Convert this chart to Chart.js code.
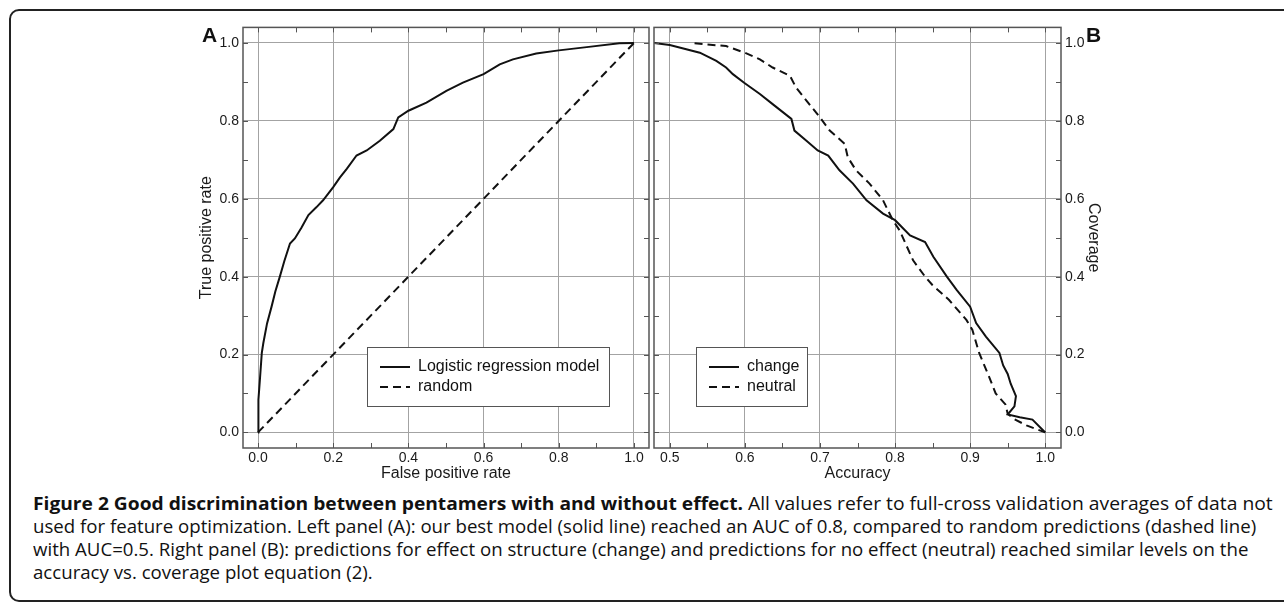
<!DOCTYPE html>
<html><head><meta charset="utf-8">
<script src="https://cdn.jsdelivr.net/npm/chart.js@4.4.1/dist/chart.umd.min.js"></script>
<style>
html,body{margin:0;padding:0;background:#fff;width:1284px;height:603px;overflow:hidden;position:relative;}
#frame{position:absolute;left:9px;top:9px;width:1310px;height:593px;border:2px solid #222;border-radius:10px;box-sizing:border-box;}
canvas{position:absolute;}
#cA{left:180px;top:15px;}
#cB{left:651px;top:15px;}
.plab{position:absolute;font:bold 21px 'Liberation Sans',Arial,sans-serif;line-height:21px;color:#111;}
#caption{position:absolute;left:33px;top:492px;font-family:'Open Sans','Noto Sans',sans-serif;font-size:18px;line-height:23px;color:#111;white-space:nowrap;}
#caption .cl{height:23px;white-space:nowrap;}
#caption .b,#caption .r{display:inline-block;white-space:pre;transform-origin:0 0;}
#caption .b{font-weight:700;}
</style></head>
<body>
<div id="frame"></div>
<canvas id="cA" width="472" height="475"></canvas>
<canvas id="cB" width="469" height="475"></canvas>
<div class="plab" style="left:202px;top:24px;">A</div>
<div class="plab" style="left:1086px;top:24px;">B</div>
<div id="caption">
<div class="cl"><span class="b" id="capBold">Figure 2 Good discrimination between pentamers with and without effect.</span><span class="r" id="capFirst"> All values refer to full-cross validation averages of data not</span></div>
<div class="cl"><span class="r">used for feature optimization. Left panel (A): our best model (solid line) reached an AUC of 0.8, compared to random predictions (dashed line)</span></div>
<div class="cl"><span class="r">with AUC=0.5. Right panel (B): predictions for effect on structure (change) and predictions for no effect (neutral) reached similar levels on the</span></div>
<div class="cl"><span class="r">accuracy vs. coverage plot equation (2).</span></div>
</div>
<script>
// ---- Panel A: ROC curve ----
const rocFPR = [0, 0.001, 0.005, 0.010, 0.014, 0.024, 0.036, 0.046, 0.058, 0.070, 0.085, 0.098, 0.115, 0.134, 0.155, 0.173, 0.200, 0.218, 0.236, 0.262, 0.289, 0.324, 0.360, 0.373, 0.400, 0.448, 0.501, 0.545, 0.600, 0.643, 0.678, 0.740, 0.800, 0.880, 0.961, 1.000];
const rocTPR = [0, 0.084, 0.136, 0.204, 0.229, 0.280, 0.323, 0.362, 0.400, 0.440, 0.485, 0.498, 0.525, 0.558, 0.578, 0.596, 0.630, 0.655, 0.677, 0.711, 0.724, 0.749, 0.779, 0.809, 0.826, 0.847, 0.877, 0.898, 0.920, 0.945, 0.958, 0.973, 0.981, 0.990, 0.999, 1.000];
const randomFPR = [0, 1];
const randomTPR = [0, 1];

// ---- Panel B: accuracy vs coverage ----
const changeAcc = [0.479, 0.500, 0.540, 0.562, 0.575, 0.584, 0.599, 0.620, 0.637, 0.662, 0.666, 0.682, 0.697, 0.711, 0.726, 0.744, 0.762, 0.784, 0.800, 0.820, 0.840, 0.851, 0.869, 0.882, 0.900, 0.908, 0.921, 0.939, 0.944, 0.950, 0.954, 0.961, 0.959, 0.950, 0.966, 0.983, 1.000];
const changeCov = [1.000, 0.995, 0.975, 0.954, 0.937, 0.920, 0.898, 0.869, 0.843, 0.805, 0.775, 0.749, 0.724, 0.711, 0.673, 0.639, 0.596, 0.562, 0.545, 0.506, 0.489, 0.451, 0.400, 0.366, 0.323, 0.281, 0.246, 0.204, 0.172, 0.150, 0.125, 0.093, 0.067, 0.046, 0.039, 0.033, 0.000];
const neutralAcc = [0.533, 0.575, 0.600, 0.620, 0.637, 0.660, 0.668, 0.682, 0.700, 0.713, 0.733, 0.737, 0.748, 0.766, 0.784, 0.797, 0.806, 0.824, 0.840, 0.850, 0.872, 0.895, 0.903, 0.912, 0.925, 0.934, 0.947, 0.950, 0.958, 0.975, 1.000];
const neutralCov = [0.999, 0.992, 0.975, 0.958, 0.937, 0.916, 0.886, 0.852, 0.809, 0.775, 0.741, 0.707, 0.673, 0.639, 0.596, 0.545, 0.519, 0.442, 0.400, 0.378, 0.340, 0.289, 0.263, 0.204, 0.144, 0.100, 0.072, 0.048, 0.035, 0.018, 0.000];

// ---- tick labels ----
const rocTicks = [0.0, 0.2, 0.4, 0.6, 0.8, 1.0];
const rocMinorTicks = [0.0, 0.1, 0.2, 0.3, 0.4, 0.5, 0.6, 0.7, 0.8, 0.9, 1.0];
const accTicks = [0.5, 0.6, 0.7, 0.8, 0.9, 1.0];
const accMinorTicks = [0.5, 0.55, 0.6, 0.65, 0.7, 0.75, 0.8, 0.85, 0.9, 0.95, 1.0];
const covTicks = [0.0, 0.2, 0.4, 0.6, 0.8, 1.0];
const covMinorTicks = [0.0, 0.1, 0.2, 0.3, 0.4, 0.5, 0.6, 0.7, 0.8, 0.9, 1.0];

Chart.defaults.font.family = "'Liberation Sans', Arial, Helvetica, sans-serif";
Chart.defaults.color = '#1a1a1a';
const GRID = '#a3a3a3', FRAME = '#555555', INK = '#111';

function pts(xs, ys) { return xs.map((x, i) => ({ x: x, y: ys[i] })); }

const frameTicks = {
  id: 'frameTicks',
  afterDatasetsDraw(chart, args, o) {
    const { ctx, chartArea: a, scales } = chart;
    ctx.save();
    ctx.strokeStyle = FRAME; ctx.lineWidth = 1;
    ctx.beginPath();
    o.xMinor.forEach(v => {
      const p = Math.round(scales.x.getPixelForValue(v)) + 0.5;
      ctx.moveTo(p, a.top); ctx.lineTo(p, a.top + o.len);
      ctx.moveTo(p, a.bottom); ctx.lineTo(p, a.bottom - o.len);
    });
    o.yMinor.forEach(v => {
      const p = Math.round(scales.y.getPixelForValue(v)) + 0.5;
      ctx.moveTo(a.left, p); ctx.lineTo(a.left + o.len, p);
      ctx.moveTo(a.right, p); ctx.lineTo(a.right - o.len, p);
    });
    ctx.stroke();
    ctx.lineWidth = 1.5;
    ctx.strokeRect(a.left, a.top, a.right - a.left, a.bottom - a.top);
    // legend box
    const L = o.legend;
    const bx = Math.round(a.left + L.left), by = Math.round(a.top + L.top);
    ctx.fillStyle = '#fff';
    ctx.fillRect(bx, by, L.width, L.height);
    ctx.lineWidth = 1; ctx.strokeStyle = FRAME;
    ctx.strokeRect(bx + 0.5, by + 0.5, L.width, L.height);
    ctx.font = "16px 'Liberation Sans', Arial, sans-serif";
    ctx.textBaseline = 'middle'; ctx.textAlign = 'left';
    chart.data.datasets.forEach((ds, i) => {
      const y = by + 20 + i * 20;
      ctx.strokeStyle = ds.borderColor; ctx.lineWidth = ds.borderWidth;
      ctx.setLineDash(ds.borderDash || []);
      ctx.beginPath(); ctx.moveTo(bx + 13, y); ctx.lineTo(bx + 43, y); ctx.stroke();
      ctx.setLineDash([]);
      ctx.fillStyle = INK;
      ctx.fillText(ds.label, bx + 51, y);
    });
    ctx.restore();
  }
};

function lineDs(label, xs, ys, dash) {
  return { label: label, data: pts(xs, ys), borderColor: INK, borderWidth: 2, borderDash: dash,
           pointRadius: 0, pointHoverRadius: 0, tension: 0, fill: false };
}

function xScale(min, max, ticks, title) {
  return {
    type: 'linear', position: 'bottom', min: min, max: max,
    afterBuildTicks: s => { s.ticks = ticks.map(v => ({ value: v })); },
    afterFit: s => { s.height = 42; },
    grid: { color: GRID, lineWidth: 1, drawTicks: false },
    border: { display: false },
    ticks: { padding: 2, font: { size: 14 }, color: '#1a1a1a', maxRotation: 0, autoSkip: false, callback: v => Number(v).toFixed(1) },
    title: { display: true, text: title, font: { size: 16 }, color: '#1a1a1a', padding: { top: 0, bottom: 7 } }
  };
}
function yScale(pos, width, ticks, title) {
  return {
    type: 'linear', position: pos, min: -0.04, max: 1.04,
    afterBuildTicks: s => { s.ticks = ticks.map(v => ({ value: v })); },
    afterFit: s => { s.width = width; },
    grid: { color: GRID, lineWidth: 1, drawTicks: false },
    border: { display: false },
    ticks: { padding: 4, font: { size: 14 }, color: '#1a1a1a', autoSkip: false, callback: v => Number(v).toFixed(1) },
    title: { display: true, text: title, font: { size: 16 }, color: '#1a1a1a', padding: { top: 17, bottom: 0 } }
  };
}

new Chart(document.getElementById('cA'), {
  type: 'line',
  data: { datasets: [
    lineDs('Logistic regression model', rocFPR, rocTPR, []),
    lineDs('random', randomFPR, randomTPR, [8, 5])
  ] },
  options: {
    responsive: false, animation: false, events: [],
    layout: { padding: { top: 12, right: 3, left: 0, bottom: 0 } },
    scales: {
      x: xScale(-0.04, 1.04, rocTicks, 'False positive rate'),
      y: yScale('left', 63, rocTicks, 'True positive rate')
    },
    plugins: {
      legend: { display: false }, tooltip: { enabled: false },
      frameTicks: { xMinor: rocMinorTicks, yMinor: rocMinorTicks, len: 5,
                    legend: { left: 124, top: 320, width: 242, height: 59 } }
    }
  },
  plugins: [frameTicks]
});

new Chart(document.getElementById('cB'), {
  type: 'line',
  data: { datasets: [
    lineDs('change', changeAcc, changeCov, []),
    lineDs('neutral', neutralAcc, neutralCov, [8, 5])
  ] },
  options: {
    responsive: false, animation: false, events: [],
    layout: { padding: { top: 12, right: 0, left: 3, bottom: 0 } },
    scales: {
      x: xScale(0.479, 1.021, accTicks, 'Accuracy'),
      y: yScale('right', 59, covTicks, 'Coverage')
    },
    plugins: {
      legend: { display: false }, tooltip: { enabled: false },
      frameTicks: { xMinor: accMinorTicks, yMinor: covMinorTicks, len: 5,
                    legend: { left: 42, top: 320, width: 111, height: 59 } }
    }
  },
  plugins: [frameTicks]
});

// caption: the original face is narrower than Open Sans; fit each run to
// anchor positions
(function () {
  const mc = document.createElement('canvas').getContext('2d');
  function mw(t, bold) { mc.font = (bold ? '700 ' : '400 ') + "18px 'Open Sans'"; return mc.measureText(t).width; }
  const bold = document.getElementById('capBold');
  const kb = 710 / mw(bold.textContent, true);
  const k1 = 377 / mw(' All values refer to full-cross validation ave', false);
  const kr = 1087 / mw('used for feature optimization. Left panel (A): our best model (solid line) reached an AUC of 0.8, compared to random predictio', false);
  const parts = Array.from(document.querySelectorAll('#caption .b, #caption .r'));
  const widths = parts.map(p => p.getBoundingClientRect().width);
  parts.forEach((p, i) => {
    const k = p === bold ? kb : (p.id === 'capFirst' ? k1 : kr);
    p.style.transform = 'scaleX(' + k + ')';
    p.style.marginRight = (widths[i] * k - widths[i]) + 'px';
  });
})();
</script>
</body></html>
